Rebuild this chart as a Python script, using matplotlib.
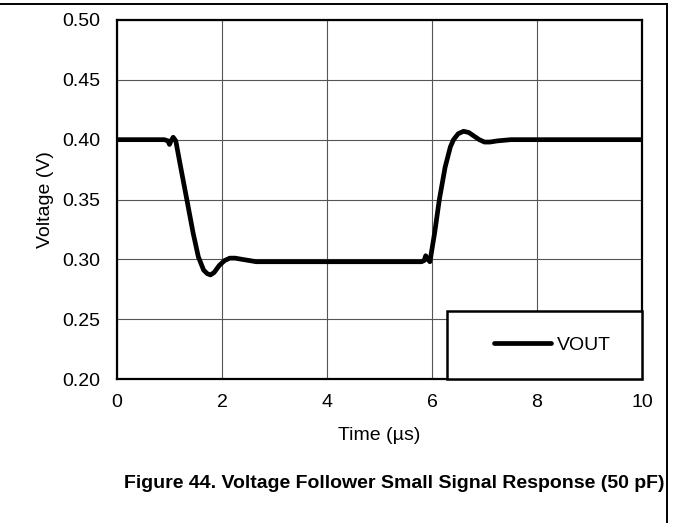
import matplotlib
matplotlib.use("Agg")
from matplotlib import pyplot as plt
from matplotlib.lines import Line2D
from matplotlib.patches import Rectangle

# VOUT trace (time in us, voltage in V)
t_us = [0.0, 0.5, 0.9, 0.97, 1.0, 1.03, 1.07, 1.12, 1.2, 1.33, 1.45, 1.55,
        1.65, 1.72, 1.78, 1.85, 1.95, 2.05, 2.15, 2.25, 2.38, 2.52, 2.65, 3.0,
        4.0, 5.0, 5.8, 5.85, 5.88, 5.92, 5.96, 6.05, 6.14, 6.25, 6.35, 6.41,
        6.5, 6.6, 6.7, 6.8, 6.9, 7.0, 7.1, 7.25, 7.5, 8.0, 9.0, 10.0]
vout = [0.400, 0.400, 0.400, 0.399, 0.396, 0.399, 0.402, 0.399, 0.380, 0.350,
        0.322, 0.302, 0.291, 0.288, 0.287, 0.289, 0.295, 0.299, 0.301, 0.301,
        0.300, 0.299, 0.298, 0.298, 0.298, 0.298, 0.298, 0.299, 0.303, 0.300,
        0.298, 0.322, 0.350, 0.377, 0.394, 0.400, 0.405, 0.407, 0.406, 0.403,
        0.400, 0.398, 0.398, 0.399, 0.400, 0.400, 0.400, 0.400]

x_ticks = [0, 2, 4, 6, 8, 10]
y_ticks = [0.20, 0.25, 0.30, 0.35, 0.40, 0.45, 0.50]

plt.rcParams["font.family"] = ["Liberation Sans", "DejaVu Sans"]
FS = 14

fig = plt.figure(figsize=(6.73, 5.23), dpi=100)
W, H = 673, 523
ax = fig.add_axes([117 / W, 1 - 379 / H, 525 / W, 359 / H])

ax.plot(t_us, vout, color="black", lw=3.4, solid_capstyle="round",
        solid_joinstyle="round", zorder=3)

ax.set_xlim(0, 10)
ax.set_ylim(0.20, 0.50)
ax.set_xticks(x_ticks)
ax.set_yticks(y_ticks)
ax.set_xticklabels([str(v) for v in x_ticks])
ax.set_yticklabels([f"{v:.2f}" for v in y_ticks])
ax.tick_params(length=0, labelsize=FS)
ax.tick_params(axis="y", pad=12)
ax.tick_params(axis="x", pad=11)
ax.grid(True, color="#555555", lw=0.8)
ax.set_axisbelow(True)
for s in ax.spines.values():
    s.set_linewidth(1.6)

ax.set_xlabel("Time (µs)", fontsize=FS, labelpad=11)
ax.set_ylabel("Voltage (V)", fontsize=FS, labelpad=6)

# legend box in lower right
x0 = (447 - 117) / 525
h = (378 - 310) / 359
ax.add_patch(Rectangle((x0, 0), 1 - x0, h, transform=ax.transAxes,
                       facecolor="white", edgecolor="black", lw=1.8, zorder=5,
                       clip_on=False))
shift = 8 / 525
leg = ax.legend([Line2D([], [], color="black", lw=3.4, solid_capstyle="round")],
                ["VOUT"], loc="center", bbox_to_anchor=(x0 + shift, 0, 1 - x0, h),
                frameon=False, fontsize=FS, handlelength=2.9, handletextpad=0.3)
leg.set_zorder(6)

# page border lines
fig.add_artist(Line2D([0, 667 / W], [1 - 4 / H, 1 - 4 / H], color="black", lw=1.4))
fig.add_artist(Line2D([667 / W, 667 / W], [0, 1 - 4 / H], color="black", lw=1.4))

fig.text(664 / W, 1 - 483 / H,
         "Figure 44. Voltage Follower Small Signal Response (50 pF)",
         ha="right", va="center", fontsize=FS, fontweight="bold")

fig.savefig("out.png", dpi=100)
